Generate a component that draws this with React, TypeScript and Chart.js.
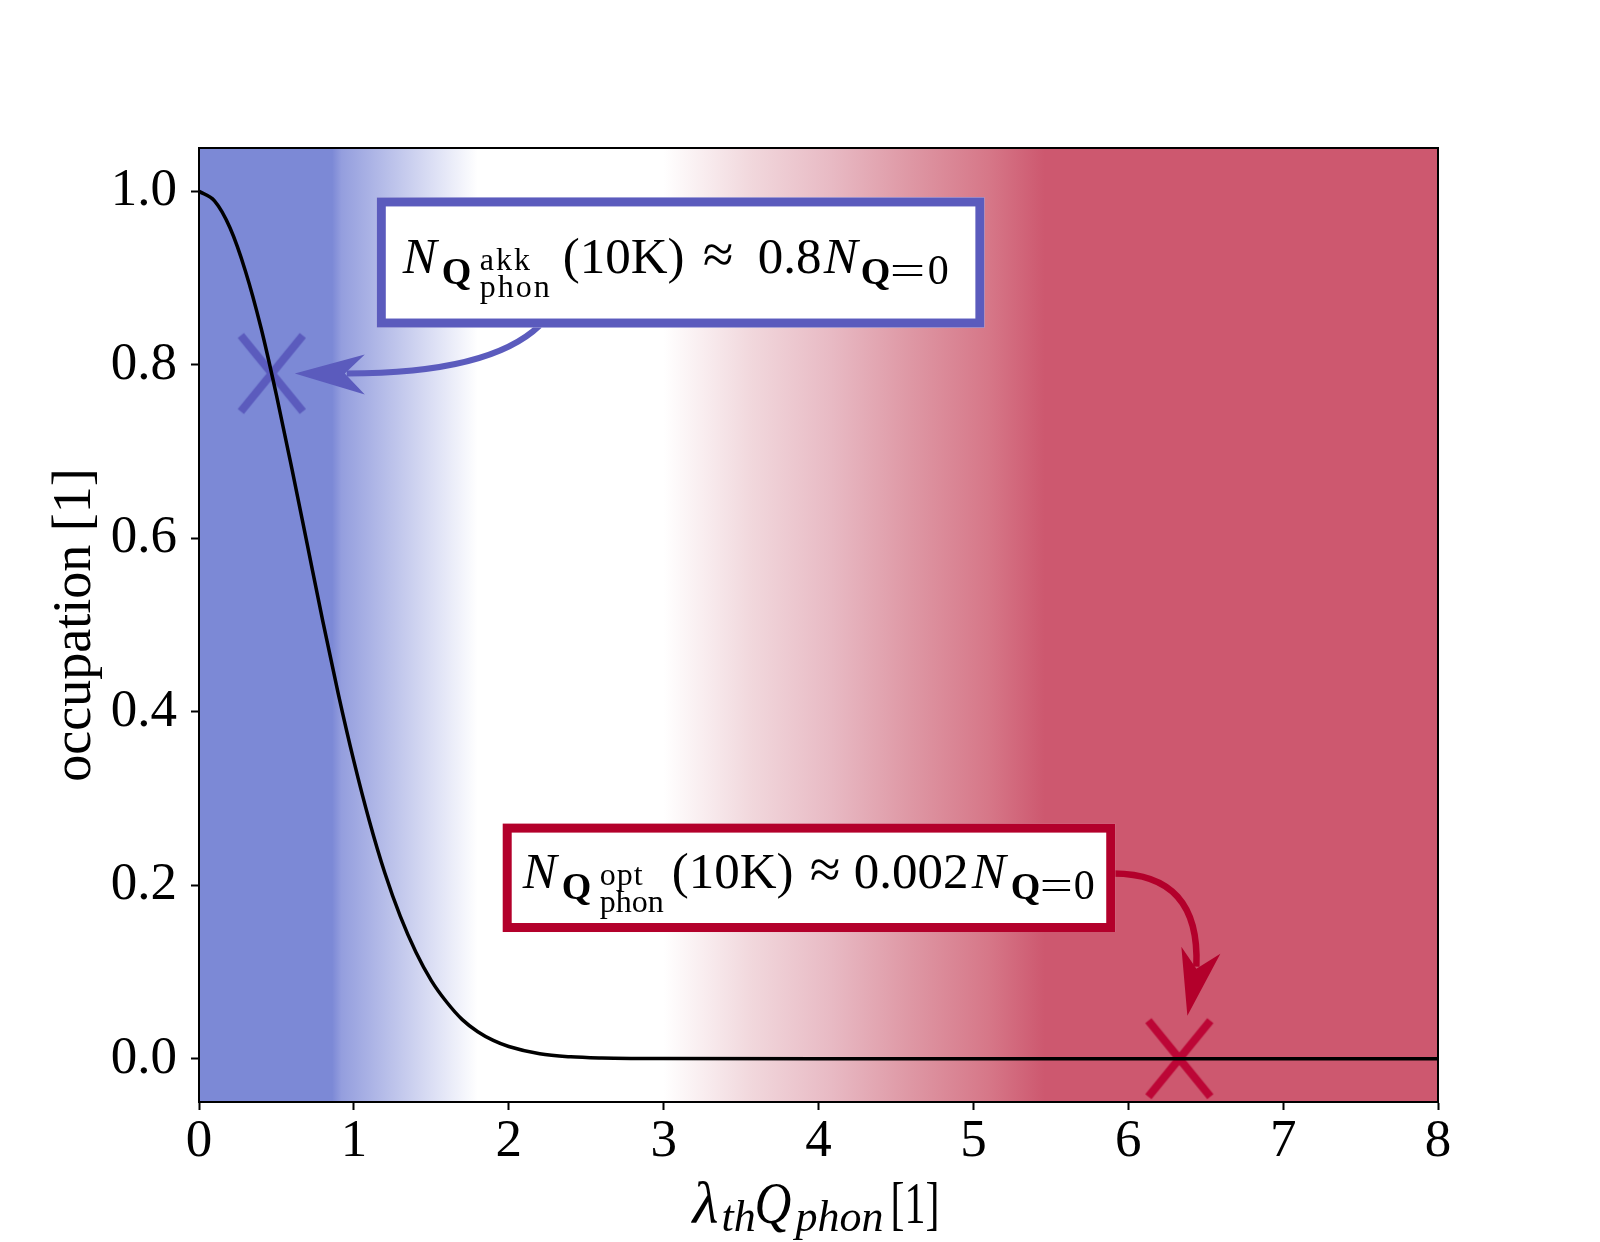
import React, { useEffect, useRef } from "react";
import { Chart, registerables } from "chart.js";

Chart.register(...registerables);

// ---- data ----
const xVals = [0, 0.1, 0.2, 0.3, 0.4, 0.5, 0.6, 0.7, 0.8, 0.9, 1.0, 1.1, 1.2, 1.3, 1.4, 1.5, 1.6, 1.7, 1.8, 1.9, 2.0, 2.2, 2.4, 2.6, 2.8, 3.0, 4.0, 5.0, 6.0, 7.0, 8.0];
const yVals = [1.0, 0.989, 0.958, 0.908, 0.843, 0.765, 0.68, 0.592, 0.504, 0.42, 0.343, 0.274, 0.214, 0.164, 0.123, 0.09, 0.065, 0.045, 0.031, 0.021, 0.014, 0.0056, 0.0021, 0.0007, 0.0002, 0.0001, 0, 0, 0, 0, 0];

const xTicks = [0, 1, 2, 3, 4, 5, 6, 7, 8];
const yTicks = [0.0, 0.2, 0.4, 0.6, 0.8, 1.0];

const crossX = [0.47, 6.33];
const crossY = [0.79, 0.0];
const crossColors = ["#5b5bbd", "#bc0636"];

const bgStops = [0, 0.86, 0.92, 1.8, 3.0, 3.57, 4.08, 4.6, 5.1, 5.46, 8];
const bgColors = [
  "rgb(124,137,214)",
  "rgb(124,137,214)",
  "rgb(148,158,222)",
  "rgb(255,255,255)",
  "rgb(255,255,255)",
  "rgb(241,215,220)",
  "rgb(232,186,196)",
  "rgb(222,151,164)",
  "rgb(214,119,136)",
  "rgb(205,88,111)",
  "rgb(205,88,111)",
];

// annotation boxes (data coordinates: left, right, top, bottom)
const boxAkk = [1.148, 5.071, 0.993, 0.843];
const boxOpt = [1.961, 5.916, 0.271, 0.146];
const boxColors = ["#5b5bbd", "#b3002b"];

const FAM = '"Liberation Serif", "Times New Roman", serif';

function makeCross(color: string) {
  const c = document.createElement("canvas");
  c.width = 80;
  c.height = 92;
  const g = c.getContext("2d")!;
  g.strokeStyle = color;
  g.lineWidth = 8;
  g.lineCap = "butt";
  const cx = 40, cy = 46, hw = 31, hh = 38;
  g.beginPath();
  g.moveTo(cx - hw, cy - hh);
  g.lineTo(cx + hw, cy + hh);
  g.moveTo(cx + hw, cy - hh);
  g.lineTo(cx - hw, cy + hh);
  g.stroke();
  return c;
}

type Piece = { t: string; font: string; dx: number; dy: number; sx?: number; ls?: number };

const akkPieces: Piece[] = [
  { t: "N", font: `italic 51px ${FAM}`, dx: 0, dy: 0 },
  { t: "Q", font: `bold 38px ${FAM}`, dx: 39, dy: 11 },
  { t: "akk", font: `32px ${FAM}`, dx: 77, dy: -3, ls: 2 },
  { t: "phon", font: `32px ${FAM}`, dx: 77, dy: 24, ls: 2 },
  { t: "(10K)", font: `51px ${FAM}`, dx: 160, dy: 0 },
  { t: "\u2248", font: `56px ${FAM}`, dx: 300, dy: 0 },
  { t: "0.8", font: `51px ${FAM}`, dx: 355, dy: 0 },
  { t: "N", font: `italic 51px ${FAM}`, dx: 421, dy: 0 },
  { t: "Q", font: `bold 38px ${FAM}`, dx: 458, dy: 11 },
  { t: "=", font: `42px ${FAM}`, dx: 487, dy: 11, sx: 1.5 },
  { t: "0", font: `42px ${FAM}`, dx: 525, dy: 11 },
];

const optPieces: Piece[] = [
  { t: "N", font: `italic 51px ${FAM}`, dx: 0, dy: 0 },
  { t: "Q", font: `bold 38px ${FAM}`, dx: 39, dy: 11 },
  { t: "opt", font: `32px ${FAM}`, dx: 77, dy: -3, ls: 1 },
  { t: "phon", font: `32px ${FAM}`, dx: 77, dy: 24, ls: 0 },
  { t: "(10K)", font: `51px ${FAM}`, dx: 149, dy: 0 },
  { t: "\u2248", font: `56px ${FAM}`, dx: 287, dy: 0 },
  { t: "0.002", font: `51px ${FAM}`, dx: 331, dy: 0 },
  { t: "N", font: `italic 51px ${FAM}`, dx: 449, dy: 0 },
  { t: "Q", font: `bold 38px ${FAM}`, dx: 488, dy: 11 },
  { t: "=", font: `42px ${FAM}`, dx: 517, dy: 11, sx: 1.4 },
  { t: "0", font: `42px ${FAM}`, dx: 551, dy: 11 },
];

const xTitlePieces: Piece[] = [
  { t: "\u03bb", font: `italic 60px ${FAM}`, dx: 0, dy: 0 },
  { t: "th", font: `italic 44px ${FAM}`, dx: 29, dy: 8 },
  { t: "Q", font: `italic 60px ${FAM}`, dx: 62, dy: 0, sx: 0.85 },
  { t: "phon", font: `italic 44px ${FAM}`, dx: 103, dy: 8 },
  { t: "[1]", font: `60px ${FAM}`, dx: 198, dy: 0, sx: 0.7 },
];

function drawPieces(ctx: CanvasRenderingContext2D, pieces: Piece[], x0: number, y0: number) {
  for (const p of pieces) {
    ctx.save();
    ctx.fillStyle = "#000";
    ctx.textBaseline = "alphabetic";
    ctx.textAlign = "left";
    ctx.font = p.font;
    (ctx as any).letterSpacing = `${p.ls || 0}px`;
    ctx.translate(x0 + p.dx, y0 + p.dy);
    ctx.scale(p.sx || 1, 1);
    ctx.fillText(p.t, 0, 0);
    ctx.restore();
  }
}

function drawHead(ctx: CanvasRenderingContext2D, pts: number[][], color: string) {
  ctx.save();
  ctx.fillStyle = color;
  ctx.beginPath();
  ctx.moveTo(pts[0][0], pts[0][1]);
  for (let i = 1; i < pts.length; i++) ctx.lineTo(pts[i][0], pts[i][1]);
  ctx.closePath();
  ctx.fill();
  ctx.restore();
}

const bgPlugin = {
  id: "bgGradient",
  beforeDatasetsDraw(chart: any) {
    const { ctx, chartArea } = chart;
    const { left, right, top, bottom } = chartArea;
    const xs = chart.scales.x;
    const g = ctx.createLinearGradient(left, 0, right, 0);
    bgStops.forEach((v, i) => {
      const f = Math.min(1, Math.max(0, (xs.getPixelForValue(v) - left) / (right - left)));
      g.addColorStop(f, bgColors[i]);
    });
    ctx.save();
    ctx.fillStyle = g;
    ctx.fillRect(left, top, right - left, bottom - top);
    ctx.restore();
  },
};

const annPlugin = {
  id: "annotations",
  afterDatasetsDraw(chart: any) {
    const { ctx, chartArea } = chart;
    const { left, right, top, bottom } = chartArea;
    const xs = chart.scales.x;
    const ys = chart.scales.y;

    // frame
    ctx.save();
    ctx.strokeStyle = "#000";
    ctx.lineWidth = 2;
    ctx.strokeRect(left, top, right - left, bottom - top);
    ctx.restore();

    const boxes = [boxAkk, boxOpt];
    const rects = boxes.map((b) => ({
      L: xs.getPixelForValue(b[0]),
      R: xs.getPixelForValue(b[1]),
      T: ys.getPixelForValue(b[2]),
      B: ys.getPixelForValue(b[3]),
    }));
    const cross = crossX.map((x, i) => [xs.getPixelForValue(x), ys.getPixelForValue(crossY[i])]);

    // blue arrow: from box bottom to the blue cross
    {
      const r = rects[0];
      const [cx, cy] = cross[0];
      const sx = r.L + 0.268 * (r.R - r.L), sy = r.B - 2;
      const tipX = cx + 23, tipY = cy;
      const nX = tipX + 52, nY = tipY;
      ctx.save();
      ctx.strokeStyle = crossColors[0];
      ctx.lineWidth = 6;
      ctx.beginPath();
      ctx.moveTo(sx, sy);
      ctx.quadraticCurveTo(nX + 143, nY, nX, nY);
      ctx.stroke();
      ctx.restore();
      drawHead(ctx, [[tipX, tipY], [tipX + 70, tipY - 19], [nX - 2, nY], [tipX + 70, tipY + 21]], crossColors[0]);
    }
    // red arrow: from box right edge to the red cross
    {
      const r = rects[1];
      const [cx, cy] = cross[1];
      const sx = r.R - 2, sy = r.T + 0.46 * (r.B - r.T);
      const tipX = cx + 8, tipY = cy - 43;
      const nX = cx + 17, nY = cy - 92;
      ctx.save();
      ctx.strokeStyle = boxColors[1];
      ctx.lineWidth = 6.5;
      ctx.beginPath();
      ctx.moveTo(sx, sy);
      ctx.quadraticCurveTo(cx + 21, sy, nX, nY);
      ctx.stroke();
      ctx.restore();
      drawHead(ctx, [[tipX, tipY], [cx + 2, cy - 112], [nX, nY + 2], [cx + 41, cy - 105]], boxColors[1]);
    }

    // boxes
    rects.forEach((r, i) => {
      ctx.save();
      ctx.fillStyle = "#fff";
      ctx.fillRect(r.L, r.T, r.R - r.L, r.B - r.T);
      ctx.strokeStyle = boxColors[i];
      ctx.lineWidth = 9;
      ctx.strokeRect(r.L + 4.5, r.T + 4.5, r.R - r.L - 9, r.B - r.T - 9);
      ctx.restore();
    });
    drawPieces(ctx, akkPieces, rects[0].L + 26, rects[0].T + 76);
    drawPieces(ctx, optPieces, rects[1].L + 20, rects[1].T + 64);

    // axis titles
    const cxm = (left + right) / 2;
    drawPieces(ctx, xTitlePieces, cxm - 126, bottom + 121);
    ctx.save();
    ctx.translate(90, (top + bottom) / 2);
    ctx.rotate(-Math.PI / 2);
    ctx.font = `54px ${FAM}`;
    ctx.fillStyle = "#000";
    ctx.textAlign = "center";
    ctx.textBaseline = "alphabetic";
    ctx.fillText("occupation [1]", 0, 0);
    ctx.restore();
  },
};

export default function App() {
  const ref = useRef<HTMLCanvasElement | null>(null);
  useEffect(() => {
    if (!ref.current) return;
    const crossImgs = crossColors.map((c) => makeCross(c));
    const tickFont = { family: "Liberation Serif", size: 53 };
    const chart = new Chart(ref.current, {
      type: "line",
      data: {
        datasets: [
          {
            type: "line",
            data: xVals.map((x, i) => ({ x, y: yVals[i] })),
            borderColor: "#000",
            borderWidth: 3.5,
            pointRadius: 0,
            cubicInterpolationMode: "monotone",
            fill: false,
            order: 0,
          } as any,
          {
            type: "scatter",
            data: crossX.map((x, i) => ({ x, y: crossY[i] })),
            pointStyle: crossImgs as any,
            pointRadius: 10,
            order: 1,
          } as any,
        ],
      },
      options: {
        responsive: false,
        animation: false,
        events: [],
        layout: { padding: { left: 0, top: 148, right: 162, bottom: 0 } },
        plugins: { legend: { display: false }, tooltip: { enabled: false } },
        scales: {
          x: {
            type: "linear",
            min: 0,
            max: 8,
            afterBuildTicks: (a: any) => {
              a.ticks = xTicks.map((v) => ({ value: v }));
            },
            afterFit: (s: any) => {
              s.height = 140;
            },
            ticks: {
              font: tickFont,
              color: "#000",
              padding: 0,
              maxRotation: 0,
              autoSkip: false,
              callback: (v: any) => String(v),
            },
            grid: { display: true, drawOnChartArea: false, drawTicks: true, tickLength: 8, tickWidth: 2, tickColor: "#000" },
            border: { display: true, color: "#000", width: 2 },
          },
          y: {
            type: "linear",
            min: -0.05,
            max: 1.05,
            afterBuildTicks: (a: any) => {
              a.ticks = yTicks.map((v) => ({ value: v }));
            },
            afterFit: (s: any) => {
              s.width = 199;
            },
            ticks: {
              font: tickFont,
              color: "#000",
              padding: 14,
              autoSkip: false,
              callback: (v: any) => Number(v).toFixed(1),
            },
            grid: { display: true, drawOnChartArea: false, drawTicks: true, tickLength: 8, tickWidth: 2, tickColor: "#000" },
            border: { display: true, color: "#000", width: 2 },
          },
        },
      },
      plugins: [bgPlugin, annPlugin],
    });
    return () => chart.destroy();
  }, []);
  return (
    <canvas
      ref={ref}
      width={1600}
      height={1242}
      style={{ position: "absolute", left: 0, top: 0, width: 1600, height: 1242, background: "#fff" }}
    />
  );
}
